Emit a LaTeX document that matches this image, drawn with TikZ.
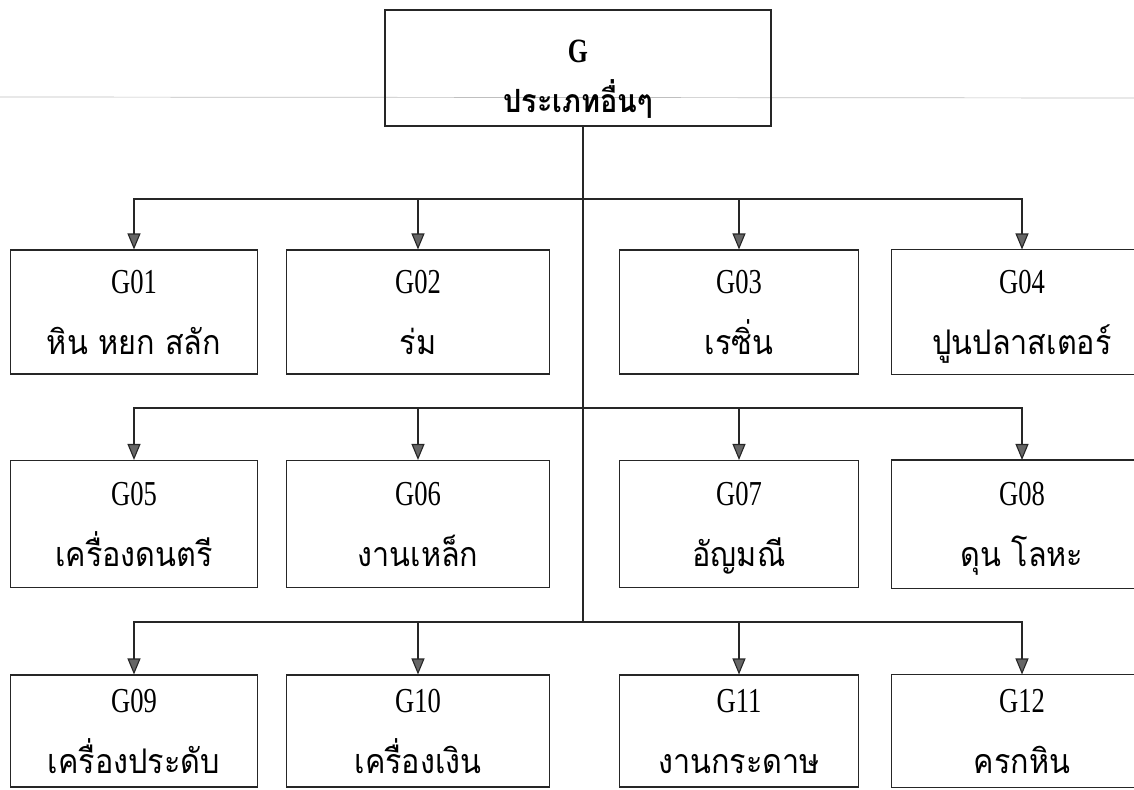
\documentclass[tikz,border=0pt]{standalone}
\usepackage{fontspec}
\setmainfont[FakeStretch=0.76]{Liberation Serif}
\newfontfamily\thai[Script=Thai,Scale=0.97,FakeStretch=0.9]{Loma}
\usetikzlibrary{arrows.meta}
\newcommand{\boxtext}[2]{\rule{0pt}{37pt}#1\\{\thai #2}\rule[-14pt]{0pt}{14pt}}
\begin{document}
\begin{tikzpicture}[x=1pt,y=-1pt,
  box/.style={draw=black!85, line width=1.1pt, align=center, inner sep=0pt,
    font=\fontsize{35}{61}\selectfont},
  cutbox/.style={box, draw=none},
  rowone/.style={box, minimum height=124},
  rowtwo/.style={box, minimum height=127},
  rowthree/.style={box, minimum height=111},
  link/.style={draw=black!85, line width=1.1pt},
  arr/.style={link, -{Triangle[length=16pt,width=13pt,fill=black!60]}}]
\useasboundingbox (0,0) rectangle (1134,789);
\clip (0,0) rectangle (1134,789);
% faint scan line
\draw[black!25, line width=0.7pt] (0,97) -- (1134,98);
% top box
\node[box, line width=1.3pt, minimum width=386, minimum height=116,
  font=\fontsize{34}{50}\selectfont\bfseries] (top) at (578,68)
  {\rule{0pt}{44pt}G\\{\thai\fontsize{33}{50}\selectfont ประเภทอื่นๆ}};
% row 1
\node[rowone, minimum width=247] (g01) at (134,312) {\boxtext{G01}{หิน หยก สลัก}};
\node[rowone, minimum width=263] (g02) at (418,312) {\boxtext{G02}{ร่ม}};
\node[rowone, minimum width=239] (g03) at (739,312) {\boxtext{G03}{เรซิ่น}};
\node[rowone, cutbox, minimum width=260] (g04) at (1022,312) {\boxtext{G04}{ปูนปลาสเตอร์}};
% row 2
\node[rowtwo, minimum width=247] (g05) at (134,524) {\boxtext{G05}{เครื่องดนตรี}};
\node[rowtwo, minimum width=263] (g06) at (418,524) {\boxtext{G06}{งานเหล็ก}};
\node[rowtwo, minimum width=239] (g07) at (739,524) {\boxtext{G07}{อัญมณี}};
\node[rowtwo, cutbox, minimum width=260] (g08) at (1022,524) {\boxtext{G08}{ดุน โลหะ}};
% row 3
\node[rowthree, minimum width=247] (g09) at (134,731) {\boxtext{G09}{เครื่องประดับ}};
\node[rowthree, minimum width=263] (g10) at (418,731) {\boxtext{G10}{เครื่องเงิน}};
\node[rowthree, minimum width=239] (g11) at (739,731) {\boxtext{G11}{งานกระดาษ}};
\node[rowthree, cutbox, minimum width=260] (g12) at (1022,731) {\boxtext{G12}{ครกหิน}};
% right-hand boxes run past the page edge
\foreach \n in {g04,g08,g12}{
  \draw[link] (\n.north west) rectangle ([xshift=60pt]\n.south east);
}
% trunk and branches
\coordinate (r1) at (583,199);
\coordinate (r2) at (583,408);
\coordinate (r3) at (583,622);
\draw[link, line width=1.8pt] (top.south -| r1) -- (r3);
\foreach \r/\a/\b/\c/\d in {r1/g01/g02/g03/g04, r2/g05/g06/g07/g08, r3/g09/g10/g11/g12}{
  \draw[arr] (\r) -| (\a.north);
  \draw[arr] (\r) -| (\b.north);
  \draw[arr] (\r) -| (\c.north);
  \draw[arr] (\r) -| (\d.north);
}
\end{tikzpicture}
\end{document}
